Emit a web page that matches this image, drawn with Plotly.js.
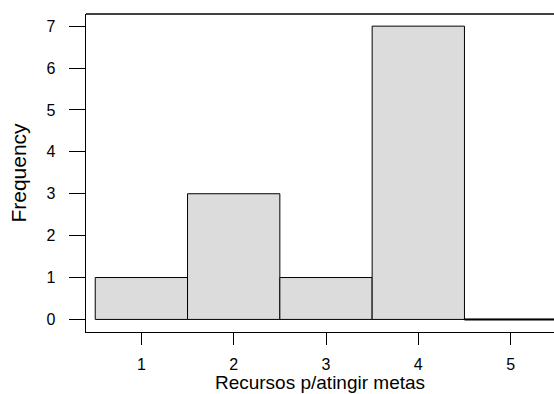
<!DOCTYPE html>
<html>
<head>
<meta charset="utf-8">
<script src="https://cdn.plot.ly/plotly-3.0.1.min.js"></script>
<style>html,body{margin:0;padding:0;background:#fff;}#chart{width:554px;height:394px;}</style>
</head>
<body>
<div id="chart"></div>
<script>
var categories = [1, 2, 3, 4, 5];
var frequencies = [1, 3, 1, 7, 0];
var yTicks = [0, 1, 2, 3, 4, 5, 6, 7];
var xTitle = "Recursos p/atingir metas";
var yTitle = "Frequency";

var font = "Liberation Sans, Arial, sans-serif";

var bars = {
  type: "bar",
  x: categories,
  y: frequencies,
  width: 1,
  marker: {color: "#dcdcdc", line: {color: "#000", width: 1}},
  hoverinfo: "x+y"
};

// zero-height bins are drawn as a flat line at the baseline
var zx = [], zy = [];
categories.forEach(function (c, i) {
  if (frequencies[i] === 0) {
    zx.push(c - 0.5, c + 0.5, null);
    zy.push(frequencies[i], frequencies[i], null);
  }
});
var zeroBins = {
  type: "scatter", mode: "lines", x: zx, y: zy,
  line: {color: "#000", width: 2}, hoverinfo: "skip", showlegend: false
};

var layout = {
  width: 554, height: 394,
  margin: {l: 86, r: 0, t: 14, b: 62},
  paper_bgcolor: "#fff", plot_bgcolor: "#fff",
  showlegend: false,
  bargap: 0,
  font: {family: font, color: "#000"},
  xaxis: {
    range: [0.4, 5.47],
    tickvals: categories,
    ticktext: categories.map(String),
    ticks: "outside", ticklen: 12, tickwidth: 1, tickcolor: "#000",
    ticklabelstandoff: 5,
    showline: true, linecolor: "#000", linewidth: 1.3,
    showgrid: false, zeroline: false,
    tickfont: {size: 16, family: font, color: "#000"},
    title: {text: xTitle, font: {size: 19, family: font, color: "#000"}, standoff: 4},
    fixedrange: true
  },
  yaxis: {
    range: [-0.3, 7.29],
    tickvals: yTicks,
    ticktext: yTicks.map(String),
    ticks: "outside", ticklen: 16, tickwidth: 1, tickcolor: "#000",
    ticklabelstandoff: 10,
    showline: true, linecolor: "#000", linewidth: 1.3,
    showgrid: false, zeroline: false,
    tickfont: {size: 16, family: font, color: "#000"},
    title: {text: yTitle, font: {size: 21, family: font, color: "#000"}, standoff: 14},
    fixedrange: true
  },
  shapes: [{
    type: "line", xref: "paper", yref: "paper", x0: 0, x1: 1, y0: 1, y1: 1,
    line: {color: "#000", width: 1.3}
  }]
};

Plotly.newPlot("chart", [bars, zeroBins], layout, {displayModeBar: false, staticPlot: true});
</script>
</body>
</html>
